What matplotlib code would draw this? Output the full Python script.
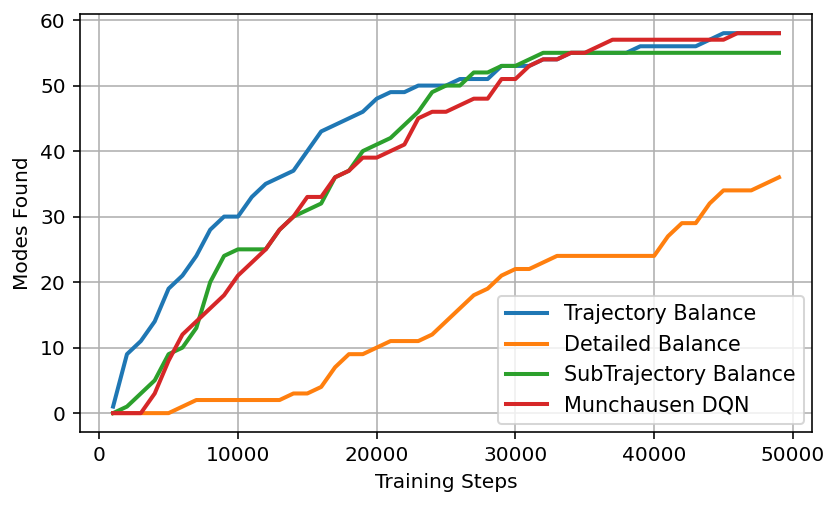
import matplotlib
matplotlib.use("Agg")
import matplotlib.pyplot as plt

steps = list(range(1000, 50000, 1000))

trajectory_balance = [1, 9, 11, 14, 19, 21, 24, 28, 30, 30,
                      33, 35, 36, 37, 40, 43, 44, 45, 46, 48,
                      49, 49, 50, 50, 50, 51, 51, 51, 53, 53,
                      53, 54, 54, 55, 55, 55, 55, 55, 56, 56,
                      56, 56, 56, 57, 58, 58, 58, 58, 58]

detailed_balance = [0, 0, 0, 0, 0, 1, 2, 2, 2, 2,
                    2, 2, 2, 3, 3, 4, 7, 9, 9, 10,
                    11, 11, 11, 12, 14, 16, 18, 19, 21, 22,
                    22, 23, 24, 24, 24, 24, 24, 24, 24, 24,
                    27, 29, 29, 32, 34, 34, 34, 35, 36]

subtrajectory_balance = [0, 1, 3, 5, 9, 10, 13, 20, 24, 25,
                         25, 25, 28, 30, 31, 32, 36, 37, 40, 41,
                         42, 44, 46, 49, 50, 50, 52, 52, 53, 53,
                         54, 55, 55, 55, 55, 55, 55, 55, 55, 55,
                         55, 55, 55, 55, 55, 55, 55, 55, 55]

munchausen_dqn = [0, 0, 0, 3, 8, 12, 14, 16, 18, 21,
                  23, 25, 28, 30, 33, 33, 36, 37, 39, 39,
                  40, 41, 45, 46, 46, 47, 48, 48, 51, 51,
                  53, 54, 54, 55, 55, 56, 57, 57, 57, 57,
                  57, 57, 57, 57, 57, 58, 58, 58, 58]

labels = ["Trajectory Balance", "Detailed Balance",
          "SubTrajectory Balance", "Munchausen DQN"]
colors = ["#1f77b4", "#ff7f0e", "#2ca02c", "#d62728"]

DPI = 145
fig = plt.figure(figsize=(840 / DPI, 506 / DPI), dpi=DPI)
ax = fig.add_axes([0.095, 0.146, 0.872, 0.826])

for series, lab, c in zip([trajectory_balance, detailed_balance,
                           subtrajectory_balance, munchausen_dqn], labels, colors):
    ax.plot(steps, series, label=lab, color=c, linewidth=2)

ax.grid(True)
ax.set_xlabel("Training Steps")
ax.set_ylabel("Modes Found")
ax.set_xticks([0, 10000, 20000, 30000, 40000, 50000])
ax.set_yticks([0, 10, 20, 30, 40, 50, 60])
ax.legend(loc="lower right", fontsize=10.3, borderaxespad=0.4)

fig.savefig("out.png", dpi=DPI)
